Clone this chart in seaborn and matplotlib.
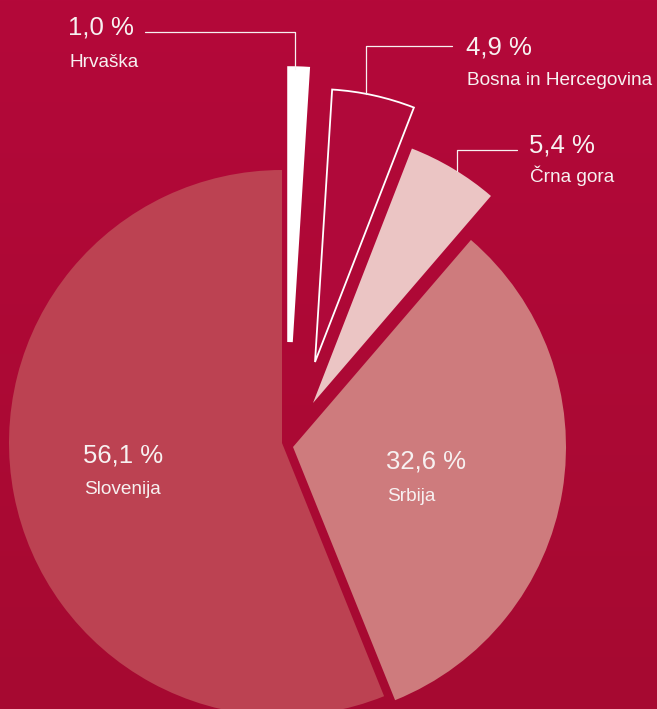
import numpy as np
import matplotlib
matplotlib.use("Agg")
import matplotlib.pyplot as plt
import seaborn as sns

# deleži po državah (v %)
drzave = ["Slovenija", "Srbija", "Črna gora", "Bosna in Hercegovina", "Hrvaška"]
delezi = [56.1, 32.6, 5.4, 4.9, 1.0]
barve = ["#BC4252", "#CE7B7D", "#EBC5C4", "#B0093A", "#FFFFFF"]

ozadje = "#B0093A"

sns.set_style("white")
plt.rcParams['font.family'] = ['Liberation Sans', 'DejaVu Sans']

W, H = 657, 709
fig = plt.figure(figsize=(W / 100, H / 100), dpi=100)
ax = fig.add_axes([0, 0, 1, 1])

# sredisce pite v pikslih in polmer
CX, CY, R = 282, 443, 273


def px(x, y):
    # pretvorba pikslov slike v koordinate osi
    return (x - CX) / R, (CY - y) / R


# ozadje z rahlim prelivom
grad = np.linspace(0, 1, 256).reshape(-1, 1)
cmap = sns.blend_palette(["#B4083A", "#A60A31"], as_cmap=True)
x0, y0 = px(0, 0)
x1, y1 = px(W, H)
ax.imshow(grad, cmap=cmap, extent=[x0, x1, y1, y0], aspect="auto", zorder=0)

wedges, _ = ax.pie(delezi, colors=barve, startangle=90, counterclock=True,
                   radius=1, wedgeprops=dict(linewidth=0))

# premik izrezov (v pikslih)
zamiki = [(0, 0), (11, 4), (31, -40), (33, -81), (8, -101)]
for w, (dx, dy) in zip(wedges, zamiki):
    w.set_center((dx / R, -dy / R))
    w.set_zorder(2)
wedges[3].set_edgecolor("white")
wedges[3].set_linewidth(1.3)
# tanek izrez Hrvaške malo razsirimo z obrobo
wedges[4].set_edgecolor("white")
wedges[4].set_linewidth(4)
wedges[4].set_joinstyle("miter")

ax.set_xlim(x0, x1)
ax.set_ylim(y1, y0)
ax.set_aspect("auto")
ax.axis("off")

bela = "#F7F1F1"
vel_proc = 18.5
vel_ime = 13.7


def oznaka(i, x, y_proc, y_ime):
    proc = f"{delezi[i]:.1f}".replace(".", ",") + " %"
    ax.text(*px(x, y_proc), proc, color=bela, fontsize=vel_proc, ha="left", va="baseline", zorder=5)
    ax.text(*px(x + 1, y_ime), drzave[i], color=bela, fontsize=vel_ime, ha="left", va="baseline", zorder=5)


oznaka(0, 83, 463, 494)
oznaka(1, 386, 468, 501)
oznaka(2, 529, 153, 182)
oznaka(3, 466, 54, 85)
oznaka(4, 68, 35, 67)


def sidro(w, kot):
    c = w.center
    return c[0] + np.cos(np.radians(kot)), c[1] + np.sin(np.radians(kot))


# povezovalne crte
a = sidro(wedges[4], 88.9)
ax.plot([a[0], a[0], px(145, 0)[0]], [a[1], px(0, 32)[1], px(0, 32)[1]], color=bela, lw=0.9, zorder=4)
a = sidro(wedges[3], 79.2)
ax.plot([a[0], a[0], px(452, 0)[0]], [a[1], px(0, 46)[1], px(0, 46)[1]], color=bela, lw=0.9, zorder=4)
a = sidro(wedges[2], 58.2)
ax.plot([a[0], a[0], px(517, 0)[0]], [a[1], px(0, 150)[1], px(0, 150)[1]], color=bela, lw=0.9, zorder=4)

fig.savefig("out.png", dpi=100, facecolor=ozadje)
